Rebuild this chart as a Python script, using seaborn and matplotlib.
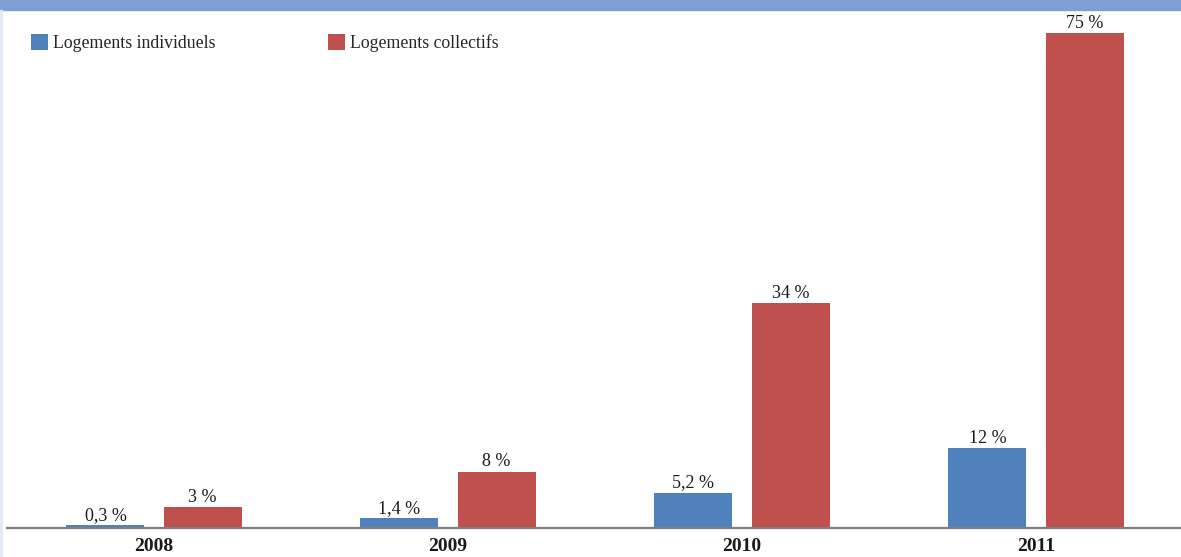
import matplotlib

matplotlib.use("Agg")
import matplotlib.pyplot as plt
import pandas as pd
import seaborn as sns
from matplotlib.patches import Rectangle

YEARS = ["2008", "2009", "2010", "2011"]
SERIES = ["Logements individuels", "Logements collectifs"]
INDIVIDUELS = [0.3, 1.4, 5.2, 12]
COLLECTIFS = [3, 8.4, 34, 75]
LABELS_INDIVIDUELS = ["0,3 %", "1,4 %", "5,2 %", "12 %"]
LABELS_COLLECTIFS = ["3 %", "8 %", "34 %", "75 %"]
COLORS = ["#4F81BD", "#C0504D"]

W, H = 1181, 557

data = pd.DataFrame(
    {
        "year": YEARS * 2,
        "serie": [SERIES[0]] * 4 + [SERIES[1]] * 4,
        "value": INDIVIDUELS + COLLECTIFS,
    }
)

sns.set_theme(style="white")
plt.rcParams["font.family"] = ["Liberation Serif", "DejaVu Serif"]

fig = plt.figure(figsize=(W / 100, H / 100), dpi=100)
ax = fig.add_axes([7 / W, 29 / H, 1 - 7 / W, 518 / H])

sns.barplot(
    data=data,
    x="year",
    y="value",
    hue="serie",
    palette=COLORS,
    width=0.66,
    gap=0.196,
    saturation=1,
    linewidth=0,
    ax=ax,
)
for patch in ax.patches:
    patch.set_zorder(3)

ax.set_xlim(-0.5, -0.5 + (W - 7) / 294)
ax.set_ylim(-0.12, 518 / 6.6)
ax.set_xlabel("")
ax.set_ylabel("")
ax.set_yticks([])
ax.tick_params(axis="x", length=0, pad=7)
for label in ax.get_xticklabels():
    label.set_fontweight("bold")
    label.set_fontsize(14)
    label.set_color("#1a1a1a")

for spine in ("top", "left", "right"):
    ax.spines[spine].set_visible(False)
ax.spines["bottom"].set_color("#7f7f7f")
ax.spines["bottom"].set_linewidth(1.6)
ax.spines["bottom"].set_zorder(1)

for container, labels in zip(ax.containers, [LABELS_INDIVIDUELS, LABELS_COLLECTIFS]):
    ax.bar_label(container, labels=labels, padding=1, fontsize=13, color="#1a1a1a")

ax.legend(
    loc="upper left",
    bbox_to_anchor=(24 / W, 1 - 27 / H),
    bbox_transform=fig.transFigure,
    ncol=2,
    frameon=False,
    fontsize=12.8,
    handlelength=0.95,
    handleheight=0.95,
    handletextpad=0.3,
    columnspacing=6.3,
    borderaxespad=0,
)

# top band and left border
fig.patches.append(
    Rectangle((0, 1 - 10 / H), 1, 10 / H, transform=fig.transFigure,
              color="#7F9FD4", zorder=0)
)
fig.patches.append(
    Rectangle((0, 0), 2 / W, 1 - 10 / H, transform=fig.transFigure,
              color="#E4E9F7", zorder=0)
)

fig.savefig("out.png", dpi=100)
